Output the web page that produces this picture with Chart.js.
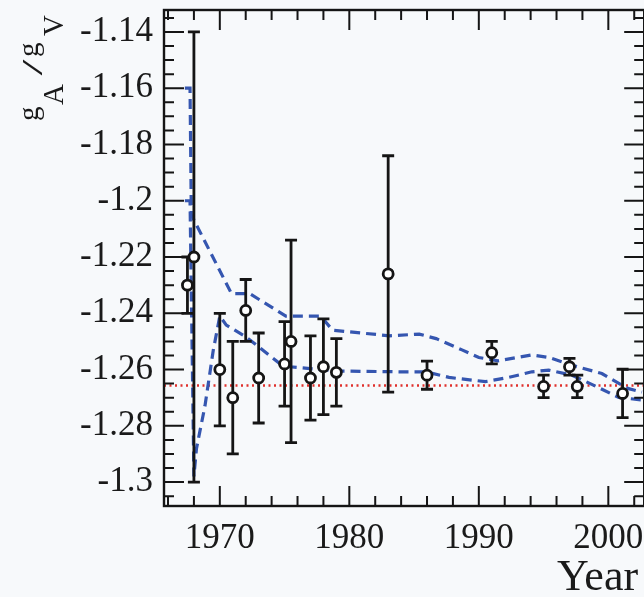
<!DOCTYPE html>
<html>
<head>
<meta charset="utf-8">
<script src="https://cdn.jsdelivr.net/npm/chart.js@4.4.1/dist/chart.umd.min.js"></script>
<style>
  html, body { margin: 0; padding: 0; overflow: hidden; background: #f7f9fb; }
  #wrap { width: 652px; height: 597px; }
</style>
</head>
<body>
<div id="wrap"><canvas id="grafico" width="652" height="597"></canvas></div>
<script>
// medidas de gA/gV por ano
const anos = [1967.5, 1968, 1970, 1971, 1972, 1973, 1975, 1975.5, 1977, 1978, 1979, 1983, 1986, 1991, 1995, 1997, 1997.6, 2001.1]
const razao = [-1.230, -1.220, -1.260, -1.270, -1.239, -1.263, -1.258, -1.250, -1.263, -1.259, -1.261, -1.226, -1.262, -1.254, -1.266, -1.259, -1.266, -1.2685]
const erros = [0.010, 0.080, 0.020, 0.020, 0.011, 0.016, 0.015, 0.036, 0.015, 0.017, 0.012, 0.042, 0.005, 0.004, 0.004, 0.003, 0.004, 0.0086]

// faixa da media acumulada (curvas tracejadas)
const anosSup = [1967.3, 1967.7, 1967.8, 1970.9, 1972.3, 1975.1, 1977.8, 1978.7, 1983.1, 1985.4, 1986.7, 1988.7, 1990, 1991.5, 1994.1, 1995.4, 1997.2, 1999.5, 2001.5, 2002.6]
const valSup = [-1.160, -1.160, -1.205, -1.233, -1.233, -1.241, -1.241, -1.246, -1.248, -1.2474, -1.249, -1.253, -1.2557, -1.2569, -1.2548, -1.2557, -1.2585, -1.2614, -1.2667, -1.268]
const anosInf = [1967.3, 1967.7, 1968.0, 1968.2, 1968.85, 1969.5, 1970.0, 1970.5, 1972.0, 1974.6, 1975.4, 1979, 1983.8, 1985.9, 1987.7, 1990.5, 1992.3, 1994.1, 1995.4, 1997.2, 1999.2, 2000.8, 2002.6]
const valInf = [-1.200, -1.200, -1.298, -1.288, -1.273, -1.253, -1.241, -1.2442, -1.2483, -1.2578, -1.259, -1.2605, -1.2608, -1.2608, -1.2628, -1.2643, -1.2628, -1.2608, -1.2602, -1.262, -1.2663, -1.2699, -1.2708]

// valor medio (linha pontilhada vermelha)
const mediaMundial = -1.2657

const ticksX = [1970, 1980, 1990, 2000]
const ticksY = [-1.3, -1.28, -1.26, -1.24, -1.22, -1.2, -1.18, -1.16, -1.14]

const xMin = 1965.69, xMax = 2002.77
const yMin = -1.3085, yMax = -1.1322

const fonte = '"Liberation Serif", "Times New Roman", serif'

const pontos = anos.map((a, i) => ({ x: a, y: razao[i] }))
const sup = anosSup.map((a, i) => ({ x: a, y: valSup[i] }))
const inf = anosInf.map((a, i) => ({ x: a, y: valInf[i] }))

const moldura = {
  id: 'moldura',
  beforeDatasetDraw(chart, args) {
    if (args.index !== 0) return
    // barras de erro antes dos circulos
    const ctx = chart.ctx
    const sx = chart.scales.x, sy = chart.scales.y
    ctx.save()
    ctx.strokeStyle = '#151515'
    ctx.lineWidth = 2.8
    for (let i = 0; i < anos.length; i++) {
      const px = sx.getPixelForValue(anos[i])
      const t = sy.getPixelForValue(razao[i] + erros[i])
      const b = sy.getPixelForValue(razao[i] - erros[i])
      ctx.beginPath()
      ctx.moveTo(px, t); ctx.lineTo(px, b)
      ctx.moveTo(px - 6, t); ctx.lineTo(px + 6, t)
      ctx.moveTo(px - 6, b); ctx.lineTo(px + 6, b)
      ctx.stroke()
    }
    ctx.restore()
  },
  afterDraw(chart) {
    const ctx = chart.ctx
    const a = chart.chartArea
    const sx = chart.scales.x, sy = chart.scales.y
    ctx.save()
    ctx.strokeStyle = '#151515'
    ctx.lineWidth = 2.4
    ctx.strokeRect(a.left, a.top, a.right - a.left, a.bottom - a.top)

    // tracinhos para dentro nos quatro lados
    ctx.lineWidth = 2
    ctx.beginPath()
    for (let ano = 1966; ano <= 2002; ano += 2) {
      const px = sx.getPixelForValue(ano)
      const len = ano % 10 === 0 ? 20 : 10
      ctx.moveTo(px, a.bottom); ctx.lineTo(px, a.bottom - len)
      ctx.moveTo(px, a.top); ctx.lineTo(px, a.top + len)
    }
    for (let k = -261; k <= -227; k++) {
      const py = sy.getPixelForValue(k * 0.005)
      const len = k % 4 === 0 ? 20 : 10
      ctx.moveTo(a.left, py); ctx.lineTo(a.left + len, py)
      ctx.moveTo(a.right, py); ctx.lineTo(a.right - len, py)
    }
    ctx.stroke()

    // titulo do eixo x
    ctx.fillStyle = '#1a1a1a'
    ctx.font = '44px ' + fonte
    ctx.textAlign = 'left'
    ctx.textBaseline = 'alphabetic'
    ctx.fillText('Year', 557, 590)

    // titulo do eixo y: gA/gV girado
    ctx.rotate(-Math.PI / 2)
    ctx.font = '29px ' + fonte
    ctx.fillText('g', -121, 38)
    ctx.fillText('A', -105, 63)
    ctx.fillText('g', -57, 38)
    ctx.fillText('V', -36, 63)
    ctx.save()
    ctx.translate(-67.5, 42)
    ctx.scale(2.0, 1)
    ctx.textAlign = 'center'
    ctx.font = '29px ' + fonte
    ctx.fillText('/', 0, 0)
    ctx.restore()
    ctx.restore()
  }
}

new Chart(document.getElementById('grafico'), {
  type: 'scatter',
  data: {
    datasets: [
      {
        label: 'medidas',
        data: pontos,
        pointRadius: 5,
        pointHoverRadius: 5,
        pointBorderWidth: 2.8,
        pointBorderColor: '#151515',
        pointBackgroundColor: '#ffffff',
        showLine: false
      },
      {
        label: 'limite superior',
        data: sup,
        showLine: true,
        borderColor: '#3556b0',
        borderWidth: 3.2,
        borderDash: [10, 6],
        pointRadius: 0,
        tension: 0
      },
      {
        label: 'limite inferior',
        data: inf,
        showLine: true,
        borderColor: '#3556b0',
        borderWidth: 3.2,
        borderDash: [10, 6],
        pointRadius: 0,
        tension: 0
      },
      {
        label: 'media',
        data: [{ x: xMin, y: mediaMundial }, { x: xMax, y: mediaMundial }],
        showLine: true,
        borderColor: '#e0302c',
        borderWidth: 2.5,
        borderDash: [2, 3.5],
        pointRadius: 0
      }
    ]
  },
  options: {
    responsive: false,
    animation: false,
    devicePixelRatio: 1,
    layout: { padding: { top: 10, right: 6, left: 0, bottom: 0 } },
    plugins: { legend: { display: false }, tooltip: { enabled: false } },
    scales: {
      x: {
        type: 'linear',
        min: xMin,
        max: xMax,
        grid: { display: false, drawTicks: false },
        border: { display: false },
        afterBuildTicks: (s) => { s.ticks = ticksX.map(v => ({ value: v })) },
        afterFit: (s) => { s.height = 91; s.paddingLeft = 0; s.paddingRight = 0 },
        ticks: {
          color: '#1a1a1a',
          font: { family: fonte, size: 35 },
          padding: 12,
          maxRotation: 0,
          callback: (v) => String(v)
        }
      },
      y: {
        type: 'linear',
        min: yMin,
        max: yMax,
        grid: { display: false, drawTicks: false },
        border: { display: false },
        afterBuildTicks: (s) => { s.ticks = ticksY.map(v => ({ value: v })) },
        afterFit: (s) => { s.width = 164; s.paddingTop = 0; s.paddingBottom = 0 },
        ticks: {
          color: '#1a1a1a',
          font: { family: fonte, size: 35 },
          padding: 11,
          callback: (v) => String(Number(v.toFixed(2)))
        }
      }
    }
  },
  plugins: [moldura]
})
</script>
</body>
</html>
